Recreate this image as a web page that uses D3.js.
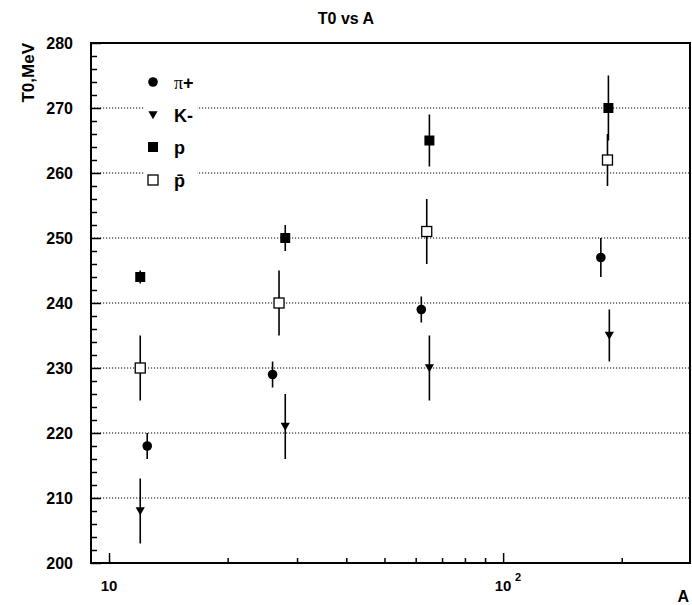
<!DOCTYPE html>
<html>
<head>
<meta charset="utf-8">
<script src="https://cdn.jsdelivr.net/npm/d3@7"></script>
<style>
  html, body { margin: 0; padding: 0; background: #fff; }
  svg { display: block; }
  text { font-family: "Liberation Sans", Arial, Helvetica, sans-serif; font-weight: bold; fill: #000; }
</style>
</head>
<body>
<svg id="chart" width="692" height="605"></svg>
<script>
// Slope parameter T0 versus target mass number A for four particle species
const seriesNames = ["π+", "K-", "p", "p̄"];

const piPlusA = [12.5, 26, 62, 177];
const piPlusT = [218, 229, 239, 247];
const piPlusErr = [2, 2, 2, 3];

const kMinusA = [12, 28, 65, 186];
const kMinusT = [208, 221, 230, 235];
const kMinusErr = [5, 5, 5, 4];

const protonA = [12, 28, 65, 185];
const protonT = [244, 250, 265, 270];
const protonErr = [1, 2, 4, 5];

const antiprotonA = [12, 27, 64, 184];
const antiprotonT = [230, 240, 251, 262];
const antiprotonErr = [5, 5, 5, 4];

const yMajorTicks = [200, 210, 220, 230, 240, 250, 260, 270, 280];
const xMajorTicks = [10, 100];
const xMinorTicks = [20, 30, 40, 50, 60, 70, 80, 90, 200];

const svg = d3.select("#chart");
const frame = { left: 91, right: 690, top: 43, bottom: 563 };

const x = d3.scaleLog().domain([9, 298]).range([frame.left, frame.right]);
const y = d3.scaleLinear().domain([200, 280]).range([frame.bottom, frame.top]);

const zip = (A, T, E) => A.map((a, i) => ({ a, t: T[i], e: E[i] }));
const series = [
  { name: seriesNames[0], marker: "circle",   data: zip(piPlusA, piPlusT, piPlusErr) },
  { name: seriesNames[1], marker: "triangle", data: zip(kMinusA, kMinusT, kMinusErr) },
  { name: seriesNames[2], marker: "square",   data: zip(protonA, protonT, protonErr) },
  { name: seriesNames[3], marker: "open",     data: zip(antiprotonA, antiprotonT, antiprotonErr) }
];

// Title
svg.append("text")
  .attr("x", 346).attr("y", 24)
  .attr("text-anchor", "middle")
  .style("font-size", "16px")
  .text("T0 vs A");

// Horizontal dotted grid at interior major ticks
svg.append("g").selectAll("line")
  .data(yMajorTicks.filter(v => v > 200 && v < 280))
  .join("line")
  .attr("x1", frame.left).attr("x2", frame.right)
  .attr("y1", d => y(d)).attr("y2", d => y(d))
  .attr("stroke", "#000").attr("stroke-width", 1)
  .attr("stroke-dasharray", "1.2,1.8");

// Legend background (hides grid behind the entries)
svg.append("rect")
  .attr("x", 144).attr("y", 68).attr("width", 53).attr("height", 128)
  .attr("fill", "#fff");

// Y axis: inward ticks, major every 10, minor every 2
svg.append("g")
  .attr("transform", `translate(${frame.left},0)`)
  .call(d3.axisRight(y).tickValues(yMajorTicks).tickSize(10).tickFormat(""))
  .call(g => g.select(".domain").remove())
  .selectAll("line").attr("stroke", "#000").attr("stroke-width", 1.5);

const yMinor = d3.range(202, 280, 2).filter(v => v % 10 !== 0);
svg.append("g")
  .attr("transform", `translate(${frame.left},0)`)
  .call(d3.axisRight(y).tickValues(yMinor).tickSize(6).tickFormat(""))
  .call(g => g.select(".domain").remove())
  .selectAll("line").attr("stroke", "#000").attr("stroke-width", 1.5);

// Y tick labels
svg.append("g").selectAll("text")
  .data(yMajorTicks)
  .join("text")
  .attr("x", 73).attr("y", d => y(d))
  .attr("dy", "0.36em")
  .attr("text-anchor", "end")
  .style("font-size", "16px")
  .text(d => d);

// X axis: log scale, ticks point up into the frame
svg.append("g")
  .attr("transform", `translate(0,${frame.bottom})`)
  .call(d3.axisTop(x).tickValues(xMajorTicks).tickSize(10).tickFormat(""))
  .call(g => g.select(".domain").remove())
  .selectAll("line").attr("stroke", "#000").attr("stroke-width", 1.5);
svg.append("g")
  .attr("transform", `translate(0,${frame.bottom})`)
  .call(d3.axisTop(x).tickValues(xMinorTicks).tickSize(5).tickFormat(""))
  .call(g => g.select(".domain").remove())
  .selectAll("line").attr("stroke", "#000").attr("stroke-width", 1.5);

// X tick labels: 10 and 10^2
xMajorTicks.forEach(v => {
  const exp = Math.round(Math.log10(v));
  svg.append("text")
    .attr("x", x(v)).attr("y", 591)
    .attr("text-anchor", "middle")
    .style("font-size", "15px")
    .text("10");
  if (exp > 1) {
    svg.append("text")
      .attr("x", x(v) + 12).attr("y", 581)
      .style("font-size", "11px")
      .text(exp);
  }
});

// Axis titles
svg.append("text")
  .attr("x", 689).attr("y", 602)
  .attr("text-anchor", "end")
  .style("font-size", "16px")
  .text("A");

svg.append("text")
  .attr("transform", `translate(34,${frame.top}) rotate(-90)`)
  .attr("text-anchor", "end")
  .style("font-size", "17px")
  .text("T0,MeV");

// Frame
svg.append("rect")
  .attr("x", frame.left).attr("y", frame.top)
  .attr("width", frame.right - frame.left)
  .attr("height", frame.bottom - frame.top)
  .attr("fill", "none")
  .attr("stroke", "#000").attr("stroke-width", 2);

// Marker drawing
function drawMarker(g, type, cx, cy) {
  if (type === "circle") {
    g.append("circle").attr("cx", cx).attr("cy", cy).attr("r", 4.8).attr("fill", "#000");
  } else if (type === "triangle") {
    const s = 4.6;
    g.append("path")
      .attr("d", `M${cx - s},${cy - s * 0.8}L${cx + s},${cy - s * 0.8}L${cx},${cy + s * 0.9}Z`)
      .attr("fill", "#000");
  } else if (type === "square") {
    g.append("rect").attr("x", cx - 5).attr("y", cy - 5).attr("width", 10).attr("height", 10).attr("fill", "#000");
  } else {
    g.append("rect").attr("x", cx - 5).attr("y", cy - 5).attr("width", 10).attr("height", 10)
      .attr("fill", "#fff").attr("stroke", "#000").attr("stroke-width", 1.3);
  }
}

// Error bars then markers
const plot = svg.append("g");
series.forEach(s => {
  plot.append("g").selectAll("line")
    .data(s.data)
    .join("line")
    .attr("x1", d => x(d.a)).attr("x2", d => x(d.a))
    .attr("y1", d => y(d.t + d.e)).attr("y2", d => y(d.t - d.e))
    .attr("stroke", "#000").attr("stroke-width", 1.6);
});
series.forEach(s => {
  s.data.forEach(d => drawMarker(plot, s.marker, x(d.a), y(d.t)));
});

// Legend
const legendRows = [82, 115, 147, 180];
series.forEach((s, i) => {
  drawMarker(svg, s.marker, 153, legendRows[i]);
  const t = svg.append("text")
    .attr("x", 174).attr("y", legendRows[i] + 7)
    .style("font-size", "18px");
  if (i === 0) {
    t.append("tspan").style("font-family", "'Liberation Serif', 'Times New Roman', serif")
      .style("font-weight", "normal").text("π");
    t.append("tspan").text("+");
  } else {
    t.text(s.name);
  }
});
</script>
</body>
</html>
